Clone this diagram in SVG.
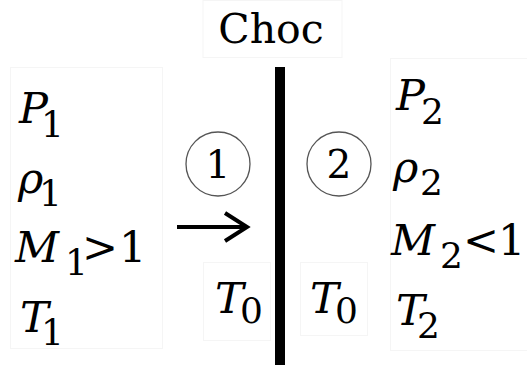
<svg xmlns="http://www.w3.org/2000/svg" width="527" height="367" viewBox="0 0 527 367">
<style>
text{font-family:'DejaVu Serif','Liberation Serif',serif;fill:#000}
.t{font-size:43px}
.i{font-style:italic}
.s{font-size:36px}
.c{font-size:39px;text-anchor:middle}
.box{fill:none;stroke:#f5f5f5;stroke-width:1}
.ring{fill:none;stroke:#555;stroke-width:1.3}
</style>
<rect width="527" height="367" fill="#fff"/>
<g id="choc">
<rect class="box" x="203" y="0.5" width="139" height="57"/>
<text x="271" y="43" text-anchor="middle" font-size="41">Choc</text>
</g>
<g id="left">
<rect class="box" x="10.5" y="67.5" width="152" height="281"/>
<text class="t"><tspan class="i" x="19" y="123">P</tspan><tspan class="s" x="41" y="137">1</tspan></text>
<text class="t"><tspan class="i" x="18" y="193">ρ</tspan><tspan class="s" x="39" y="206">1</tspan></text>
<text class="t"><tspan class="i" x="15" y="262">M</tspan><tspan class="s" x="65" y="275">1</tspan><tspan x="82" y="262">&gt;</tspan><tspan x="119" y="262">1</tspan></text>
<text class="t"><tspan class="i" x="20" y="332">T</tspan><tspan class="s" x="41" y="345">1</tspan></text>
</g>
<g id="right">
<rect class="box" x="390.5" y="58.5" width="140" height="292"/>
<text class="t"><tspan class="i" x="396" y="110">P</tspan><tspan class="s" x="421" y="124">2</tspan></text>
<text class="t"><tspan class="i" x="393" y="182">ρ</tspan><tspan class="s" x="420" y="195">2</tspan></text>
<text class="t"><tspan class="i" x="391" y="255">M</tspan><tspan class="s" x="440" y="268">2</tspan><tspan x="463" y="255">&lt;</tspan><tspan x="498" y="255">1</tspan></text>
<text class="t"><tspan class="i" x="396" y="325">T</tspan><tspan class="s" x="417" y="338">2</tspan></text>
</g>
<g id="zone1">
<circle class="ring" cx="218" cy="164" r="32"/>
<text class="c" x="218" y="178">1</text>
</g>
<g id="zone2">
<circle class="ring" cx="339" cy="164" r="32"/>
<text class="c" x="339" y="178">2</text>
</g>
<g id="t0left">
<rect class="box" x="203.5" y="262.5" width="67" height="78"/>
<text class="t"><tspan class="i" x="215" y="313">T</tspan><tspan class="s" x="240" y="323">0</tspan></text>
</g>
<g id="t0right">
<rect class="box" x="300.5" y="262.5" width="67" height="73"/>
<text class="t"><tspan class="i" x="310" y="313">T</tspan><tspan class="s" x="335" y="323">0</tspan></text>
</g>
<g id="connectors">
<rect id="shock" x="275" y="67" width="10" height="298" fill="#000"/>
<line x1="177" y1="227" x2="246" y2="227" stroke="#000" stroke-width="4"/>
<polyline points="225,213 247,227 225,241" fill="none" stroke="#000" stroke-width="4" stroke-linejoin="miter"/>
</g>
</svg>
